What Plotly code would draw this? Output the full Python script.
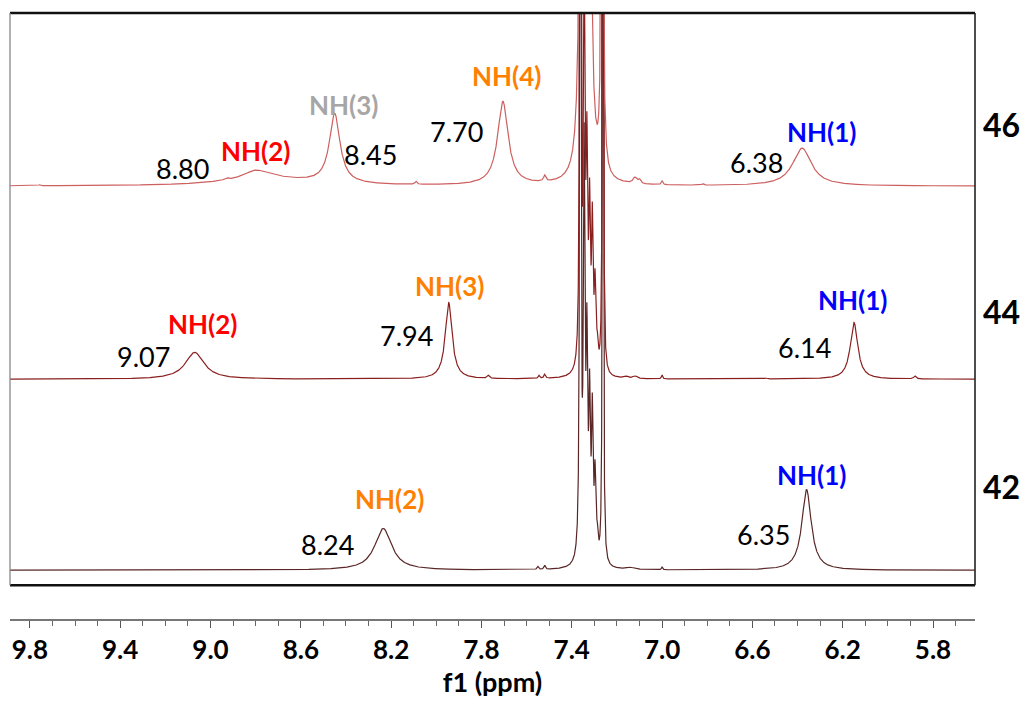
import numpy as np
import plotly.graph_objects as go

# ---------------- data ----------------
# peak lists: chemical shift (ppm), height (px-like units), half width (ppm)
ppm_46 = [9.756, 8.75, 8.80, 8.93, 8.45, 8.09, 7.705, 7.52, 7.355, 7.325, 7.265, 7.12, 7.10, 7.00, 6.82, 6.38]
h_46   = [1.0,   8.0,  8.0,  2.0,  70.0, 3.0,  84.0,  6.0,  1500,  1200,  700,   6.0,  4.0,  4.0,  1.5,  38.0]
w_46   = [0.004, 0.22, 0.06, 0.01, 0.028, 0.005, 0.028, 0.006, 0.0055, 0.006, 0.004, 0.01, 0.006, 0.004, 0.005, 0.05]

ppm_44 = [9.07, 7.945, 7.77, 7.545, 7.52, 7.362, 7.345, 7.333, 7.321, 7.309, 7.297, 7.287, 7.262,
          7.16, 7.12, 7.00, 6.54, 6.15, 5.88]
h_44   = [27.0, 77.0, 3.0, 3.0, 4.0, 3000, 400, 200, 150, 140, 80, 20, 3000,
          2.0, 2.5, 4.0, 1.0, 57.0, 3.0]
w_44   = [0.05, 0.018, 0.006, 0.004, 0.004, 0.0015, 0.004, 0.004, 0.004, 0.004, 0.004, 0.004, 0.0012,
          0.01, 0.01, 0.003, 0.006, 0.02, 0.006]

ppm_42 = [8.235, 7.55, 7.52, 7.362, 7.345, 7.333, 7.321, 7.309, 7.297, 7.287, 7.262, 7.14, 7.00, 6.36]
h_42   = [42.0, 3.0, 4.0, 3000, 400, 200, 150, 140, 80, 20, 3000, 2.0, 3.0, 81.0]
w_42   = [0.045, 0.004, 0.004, 0.0015, 0.004, 0.004, 0.004, 0.004, 0.004, 0.004, 0.0012, 0.02, 0.003, 0.025]

spectrum_names = ["42", "44", "46"]

# peak labels: (text, ppm, y, kind)
labels_46 = [("8.80", 9.123, 419, "num"), ("NH(2)", 8.80, 436, "red"), ("NH(3)", 8.411, 483, "gray"),
             ("8.45", 8.291, 433, "num"), ("7.70", 7.911, 456, "num"), ("NH(4)", 7.689, 512, "orange"),
             ("6.38", 6.583, 425, "num"), ("NH(1)", 6.296, 455, "blue")]
labels_44 = [("9.07", 9.296, 230, "num"), ("NH(2)", 9.035, 262, "red"), ("7.94", 8.132, 251, "num"),
             ("NH(3)", 7.942, 301, "orange"), ("6.14", 6.371, 239, "num"), ("NH(1)", 6.158, 287, "blue")]
labels_42 = [("8.24", 8.481, 41, "num"), ("NH(2)", 8.207, 87, "orange"),
             ("6.35", 6.552, 51, "num"), ("NH(1)", 6.340, 111, "blue")]

# ---------------- layout constants ----------------
X_RANGE = [9.888, 5.614]
Y_RANGE = [0, 575]
offsets = {"42": 15, "44": 207, "46": 401}
colors = {"42": "#5a2626", "44": "#8a1f1f", "46": "#cd5f5f"}
label_colors = {"num": "#000000", "red": "#ff0000", "gray": "#a6a6a6", "orange": "#ff8000", "blue": "#0000ff"}
name_y = {"42": 99, "44": 275, "46": 463}
FONT = "Lato, 'Open Sans', sans-serif"

x = np.linspace(X_RANGE[0], X_RANGE[1], 14000)


def spectrum(ppms, hs, ws):
    y = np.zeros_like(x)
    for p, h, w in zip(ppms, hs, ws):
        y += h / (1.0 + ((x - p) / w) ** 2)
    return y


peaks = {"42": (ppm_42, h_42, w_42), "44": (ppm_44, h_44, w_44), "46": (ppm_46, h_46, w_46)}

fig = go.Figure()
for name in spectrum_names:
    y = spectrum(*peaks[name]) + offsets[name]
    fig.add_trace(go.Scatter(x=x, y=y, mode="lines", name=name,
                             line=dict(color=colors[name], width=1.2),
                             hoverinfo="skip", showlegend=False))

ann = []
for lab_list in (labels_46, labels_44, labels_42):
    for text, px, py, kind in lab_list:
        bold = kind != "num"
        ann.append(dict(x=px, y=py, xref="x", yref="y", text=text, showarrow=False,
                        xanchor="center", yanchor="middle",
                        font=dict(family=FONT, size=26 if bold else 27,
                                  color=label_colors[kind], weight="bold" if bold else "normal")))
for name in spectrum_names:
    ann.append(dict(x=1.027, y=name_y[name], xref="paper", yref="y", text=name, showarrow=False,
                    xanchor="center", yanchor="middle",
                    font=dict(family=FONT, size=32, color="#000", weight="bold")))

D = 35 / 610  # bottom of the framed box in paper coords
shapes = [
    dict(type="line", xref="paper", yref="paper", x0=0, x1=1, y0=1, y1=1, line=dict(color="#111", width=2.5)),
    dict(type="line", xref="paper", yref="paper", x0=0, x1=1, y0=D, y1=D, line=dict(color="#111", width=2.5)),
    dict(type="line", xref="paper", yref="paper", x0=0, x1=0, y0=D, y1=1, line=dict(color="#888", width=1.3)),
    dict(type="line", xref="paper", yref="paper", x0=1, x1=1, y0=D, y1=1, line=dict(color="#222", width=1.6)),
]

fig.update_layout(
    width=1025, height=702,
    margin=dict(l=10, r=50, t=13, b=79),
    paper_bgcolor="white", plot_bgcolor="white",
    annotations=ann, shapes=shapes,
    xaxis=dict(range=X_RANGE, anchor="free", position=0, showgrid=False, zeroline=False,
               showline=True, linecolor="#777", linewidth=1.5,
               ticks="outside", ticklen=7, tickwidth=1.3, tickcolor="#555",
               tick0=5.8, dtick=0.4, tickformat=".1f",
               minor=dict(ticks="outside", ticklen=5, tickwidth=1, tickcolor="#666", tick0=5.8, dtick=0.1),
               tickfont=dict(family=FONT, size=26, color="#000", weight="bold"),
               title=dict(text="f1 (ppm)", standoff=8,
                          font=dict(family=FONT, size=27, color="#000", weight="bold"))),
    yaxis=dict(range=Y_RANGE, domain=[D, 1], visible=False, showgrid=False, zeroline=False),
)

fig.write_html("out.html", config={"displayModeBar": False},
               post_script="document.body.style.margin='0px';")
